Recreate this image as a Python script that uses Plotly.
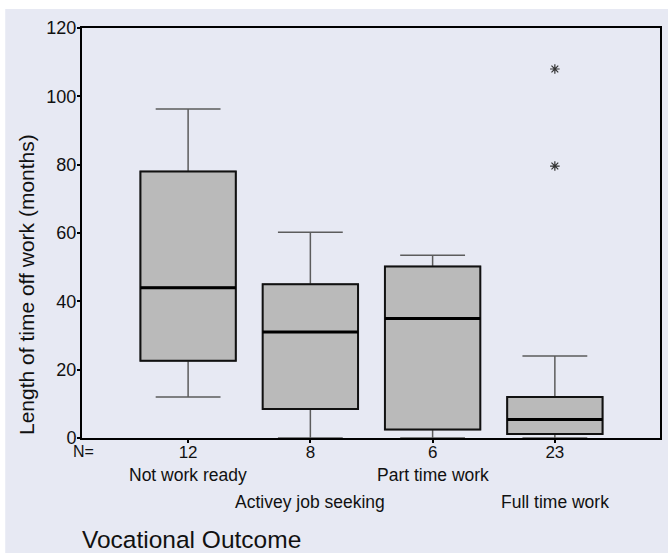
import plotly.graph_objects as go

# ---- data ----
categories = ["Not work ready", "Activey job seeking", "Part time work", "Full time work"]
n_counts = ["12", "8", "6", "23"]
lower_whisker = [12, 0, 0, 0]
q1_vals = [22.6, 8.5, 2.5, 1.2]
median_vals = [44, 31, 35, 5.4]
q3_vals = [78, 45, 50.2, 12]
upper_whisker = [96.3, 60.2, 53.5, 24]
outlier_group = [3, 3]
outlier_vals = [108, 79.6]
y_ticks = [0, 20, 40, 60, 80, 100, 120]

BG = "#e7e9f3"
FONT = "Arial, Liberation Sans, sans-serif"
BOX_W = 0.78
xpos = list(range(len(categories)))

fig = go.Figure()

# whiskers (grey thin lines)
fig.add_trace(go.Box(
    x=xpos, q1=q1_vals, median=median_vals, q3=q3_vals,
    lowerfence=lower_whisker, upperfence=upper_whisker,
    width=BOX_W, whiskerwidth=0.68, boxpoints=False,
    line=dict(color="#5c5c5c", width=1.5), fillcolor="#bababa",
    hoverinfo="skip", showlegend=False))

# boxes (black border)
fig.add_trace(go.Box(
    x=xpos, q1=q1_vals, median=median_vals, q3=q3_vals,
    lowerfence=q1_vals, upperfence=q3_vals,
    width=BOX_W, whiskerwidth=0, boxpoints=False,
    line=dict(color="#111111", width=2), fillcolor="#bababa",
    hoverinfo="skip", showlegend=False))

# thick median lines
mx, my = [], []
for i, m in zip(xpos, median_vals):
    mx += [i - BOX_W / 2, i + BOX_W / 2, None]
    my += [m, m, None]
fig.add_trace(go.Scatter(x=mx, y=my, mode="lines",
                         line=dict(color="#000000", width=3),
                         hoverinfo="skip", showlegend=False))

# outliers
fig.add_trace(go.Scatter(x=outlier_group, y=outlier_vals, mode="markers",
                         marker=dict(symbol="asterisk-open", size=8, color="#333333",
                                     line=dict(color="#333333", width=1.2)),
                         hoverinfo="skip", showlegend=False))

annotations = []
# category labels, staggered in two rows
for i, cat in enumerate(categories):
    annotations.append(dict(x=i, xref="x", y=0, yref="paper", text=cat,
                            showarrow=False, xanchor="center", yanchor="middle",
                            yshift=-36.5 if i % 2 == 0 else -63.5,
                            font=dict(family=FONT, size=17.5, color="#111111")))
annotations.append(dict(x=0, xref="paper", y=0, yref="paper", text="N=",
                        showarrow=False, xanchor="center", yanchor="middle",
                        xshift=1, yshift=-13,
                        font=dict(family=FONT, size=16, color="#111111")))
annotations.append(dict(x=0, xref="paper", y=0, yref="paper", text="Vocational Outcome",
                        showarrow=False, xanchor="left", yanchor="middle",
                        xshift=-2, yshift=-101,
                        font=dict(family=FONT, size=24.5, color="#111111")))
annotations.append(dict(x=0, xref="paper", y=0, yref="paper",
                        text="Length of time off work (months)",
                        textangle=-90, showarrow=False,
                        xanchor="center", yanchor="middle",
                        xshift=-56, yshift=153,
                        font=dict(family=FONT, size=21, color="#111111")))

fig.update_layout(
    width=668, height=553,
    margin=dict(l=82, r=6, t=28, b=115, pad=0),
    paper_bgcolor="white", plot_bgcolor=BG,
    boxmode="overlay",
    annotations=annotations,
    shapes=[dict(type="rect", xref="paper", yref="paper",
                 x0=-0.1328, x1=1.02, y0=-0.3, y1=1.0464,
                 fillcolor=BG, line=dict(width=0), layer="below")],
    xaxis=dict(range=[-0.868, 3.86], tickvals=xpos, ticktext=n_counts,
               showgrid=False, zeroline=False, showline=True, mirror=True,
               linecolor="#000000", linewidth=2,
               ticks="outside", ticklen=3, tickwidth=2, tickcolor="#000000",
               ticklabelstandoff=-5,
               tickfont=dict(family=FONT, size=17, color="#111111")),
    yaxis=dict(range=[0, 120], tickvals=y_ticks,
               showgrid=False, zeroline=False, showline=True, mirror=True,
               linecolor="#000000", linewidth=2,
               ticks="outside", ticklen=3, tickwidth=2, tickcolor="#000000",
               ticklabelstandoff=-3,
               tickfont=dict(family=FONT, size=18, color="#111111")),
)

fig.write_html("out.html",
               config={"displayModeBar": False},
               post_script="document.body.style.margin='0';document.body.style.overflow='hidden';")
